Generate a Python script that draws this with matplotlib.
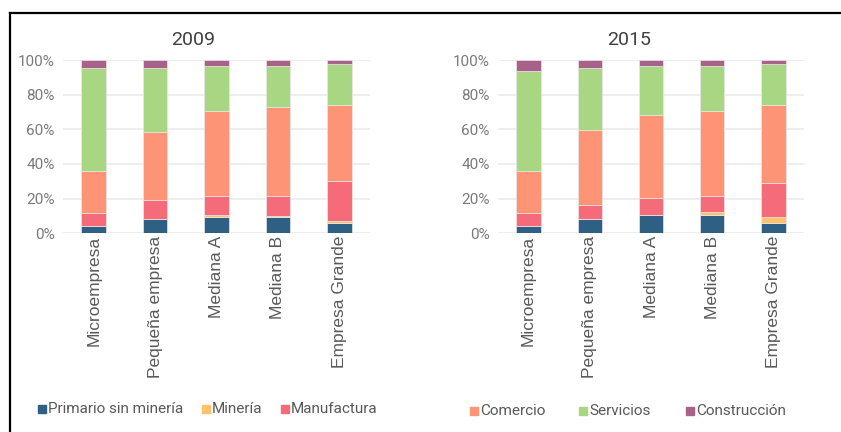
import numpy as np
import matplotlib.pyplot as plt
from matplotlib.patches import Rectangle
from matplotlib.lines import Line2D

categories = ["Microempresa", "Pequeña empresa", "Mediana A", "Mediana B", "Empresa Grande"]
sectors = ["Primario sin minería", "Minería", "Manufactura", "Comercio", "Servicios", "Construcción"]
colors = ["#2f5f82", "#fdc26a", "#f66b7a", "#fe9476", "#a9d682", "#a8628a"]

# shares (%) by sector, per firm size
share_2009 = {
    "Primario sin minería": [4.4, 8.1, 9.4, 9.4, 5.8],
    "Minería": [0.1, 0.1, 1.2, 0.3, 1.3],
    "Manufactura": [7.4, 11.0, 11.1, 12.0, 23.1],
    "Comercio": [24.2, 39.1, 48.9, 51.4, 44.0],
    "Servicios": [59.1, 36.9, 25.7, 23.2, 23.5],
    "Construcción": [4.8, 4.8, 3.7, 3.7, 2.3],
}
share_2015 = {
    "Primario sin minería": [4.4, 8.1, 10.6, 10.6, 5.8],
    "Minería": [0.1, 0.1, 0.2, 1.5, 3.8],
    "Manufactura": [7.4, 8.3, 9.6, 9.6, 19.4],
    "Comercio": [24.2, 43.3, 47.9, 48.9, 45.2],
    "Servicios": [57.7, 35.4, 28.0, 25.7, 23.5],
    "Construcción": [6.2, 4.8, 3.7, 3.7, 2.3],
}

plt.rcParams["font.family"] = ["Roboto", "DejaVu Sans"]

fig = plt.figure(figsize=(8.41, 4.32), dpi=100)
W, H = 841, 432

panels = [("2009", share_2009, 63, 370, 193), ("2015", share_2015, 498, 804, 629)]
x = np.arange(len(categories))

for title, data, x0, x1, tx in panels:
    ax = fig.add_axes([x0 / W, 1 - 233.3 / H, (x1 - x0) / W, 173.3 / H])
    bottom = np.zeros(len(categories))
    for name, col in zip(sectors, colors):
        vals = np.array(data[name])
        ax.bar(x, vals, 0.4, bottom=bottom, color=col, edgecolor="#e8e8e8", linewidth=0.5, zorder=3)
        bottom += vals
    ax.set_xlim(-0.5, len(categories) - 0.5)
    ax.set_ylim(0, 100)
    ax.set_yticks(np.arange(0, 101, 20))
    ax.set_yticklabels([f"{v}%" for v in range(0, 101, 20)])
    ax.grid(axis="y", color="#ebebeb", linewidth=1.2, zorder=0)
    for s in ax.spines.values():
        s.set_visible(False)
    ax.tick_params(axis="y", length=0, pad=6, labelsize=11, labelcolor="#7a7a7a")
    ax.tick_params(axis="x", length=0, pad=2)
    ax.set_xticks(x)
    ax.set_xticklabels(categories, rotation=90, fontsize=12.5, color="#595959",
                       family=["Liberation Sans", "DejaVu Sans"])
    fig.text(tx / W, 1 - 40 / H, title, ha="center", va="center", fontsize=14, color="#404040")

# legend, split into two groups like the reference
leg_left = [(0, 42, 409), (1, 206, 409), (2, 285, 409)]
leg_right = [(3, 474, 411), (4, 583, 411), (5, 690, 411)]
for i, px, py in leg_left + leg_right:
    fig.patches.append(Rectangle(((px - 4) / W, 1 - (py + 4) / H), 8 / W, 8 / H,
                                 transform=fig.transFigure, color=colors[i]))
    fig.text((px + 6) / W, 1 - py / H, sectors[i], ha="left", va="center",
             fontsize=11, color="#595959")

# frame: top and left border lines
fig.add_artist(Line2D([10 / W, 1], [1 - 13 / H, 1 - 13 / H], color="black", linewidth=1.6))
fig.add_artist(Line2D([10 / W, 10 / W], [0, 1 - 13 / H], color="black", linewidth=1.6))

fig.savefig("out.png", dpi=100)
